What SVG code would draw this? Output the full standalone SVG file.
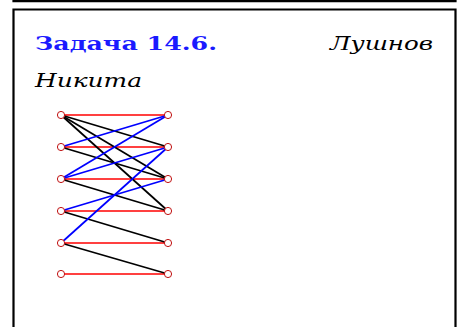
<svg xmlns="http://www.w3.org/2000/svg" width="462" height="327" viewBox="0 0 462 327">
<style>
.frame{fill:none;stroke:#000;stroke-width:2.2}
.r{stroke:#ff0000;stroke-width:1.7}
.k{stroke:#000;stroke-width:1.7}
.b{stroke:#0000ff;stroke-width:1.7}
.n{fill:#fff;stroke:#c01010;stroke-width:1}
.t{font-family:"DejaVu Serif","Liberation Serif",serif;font-size:18.5px}
</style>
<rect width="462" height="327" fill="#fff"/>
<path class="frame" d="M13.5,-5 V1.2 H455.5 V-5"/>
<path class="frame" d="M13.5,330 V9.5 H455.5 V330"/>
<text class="t" x="35" y="50" fill="#1a1aff" font-weight="bold" textLength="182" lengthAdjust="spacingAndGlyphs">Задача 14.6.</text>
<text class="t" x="433" y="50" text-anchor="end" font-style="italic" textLength="103" lengthAdjust="spacingAndGlyphs">Лушнов</text>
<text class="t" x="35" y="87" font-style="italic" textLength="107" lengthAdjust="spacingAndGlyphs">Никита</text>
<g id="connectors">
<line class="r" x1="61" y1="115" x2="168" y2="115"/>
<line class="r" x1="61" y1="147" x2="168" y2="147"/>
<line class="r" x1="61" y1="179" x2="168" y2="179"/>
<line class="r" x1="61" y1="211" x2="168" y2="211"/>
<line class="r" x1="61" y1="243" x2="168" y2="243"/>
<line class="r" x1="61" y1="274" x2="168" y2="274"/>
<line class="k" x1="61" y1="115" x2="168" y2="147"/>
<line class="k" x1="61" y1="115" x2="168" y2="179"/>
<line class="k" x1="61" y1="115" x2="168" y2="211"/>
<line class="k" x1="61" y1="147" x2="168" y2="179"/>
<line class="k" x1="61" y1="179" x2="168" y2="211"/>
<line class="k" x1="61" y1="211" x2="168" y2="243"/>
<line class="k" x1="61" y1="243" x2="168" y2="274"/>
<line class="b" x1="61" y1="147" x2="168" y2="115"/>
<line class="b" x1="61" y1="179" x2="168" y2="115"/>
<line class="b" x1="61" y1="179" x2="168" y2="147"/>
<line class="b" x1="61" y1="211" x2="168" y2="179"/>
<line class="b" x1="61" y1="243" x2="168" y2="147"/>
</g>
<g id="L1"><circle class="n" cx="61" cy="115" r="3.6"/></g>
<g id="L2"><circle class="n" cx="61" cy="147" r="3.6"/></g>
<g id="L3"><circle class="n" cx="61" cy="179" r="3.6"/></g>
<g id="L4"><circle class="n" cx="61" cy="211" r="3.6"/></g>
<g id="L5"><circle class="n" cx="61" cy="243" r="3.6"/></g>
<g id="L6"><circle class="n" cx="61" cy="274" r="3.6"/></g>
<g id="R1"><circle class="n" cx="168" cy="115" r="3.6"/></g>
<g id="R2"><circle class="n" cx="168" cy="147" r="3.6"/></g>
<g id="R3"><circle class="n" cx="168" cy="179" r="3.6"/></g>
<g id="R4"><circle class="n" cx="168" cy="211" r="3.6"/></g>
<g id="R5"><circle class="n" cx="168" cy="243" r="3.6"/></g>
<g id="R6"><circle class="n" cx="168" cy="274" r="3.6"/></g>
</svg>
